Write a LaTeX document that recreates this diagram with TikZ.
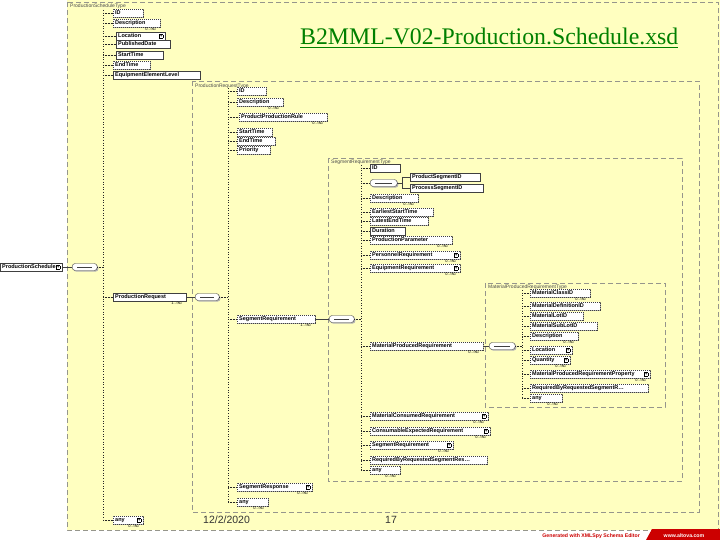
\documentclass[tikz,border=0pt]{standalone}
\usepackage{fontspec}
\setmainfont{Liberation Serif}
\newfontfamily\elfont{Liberation Sans}
\usetikzlibrary{shadows}
\definecolor{bgy}{RGB}{255,255,192}
\definecolor{boxg}{RGB}{150,150,140}
\definecolor{ttl}{RGB}{0,128,0}
\definecolor{gred}{RGB}{204,0,0}
\newcommand\plusbox{\nobreak\hfill{\fboxsep=0.3pt\fboxrule=0.4pt\fbox{\fontsize{4}{4}\selectfont +}}}
\tikzset{
 el/.style={draw=black!75, fill=white, anchor=west, font=\elfont\bfseries\fontsize{5.5}{6}\selectfont,
   inner xsep=2pt, inner ysep=1pt, text height=4.5pt, text depth=1.5pt, align=left,
   execute at begin node={\hyphenpenalty=10000 \exhyphenpenalty=10000 },
   drop shadow={shadow xshift=1.2pt, shadow yshift=-1.2pt, fill=black!30, opacity=1}},
 bw/.style={text width=#1pt-4pt},
 opt/.style={el, dash pattern=on 1.2pt off 0.8pt},
 card/.style={font=\elfont\fontsize{4}{4}\selectfont, anchor=north east, inner sep=0.5pt},
 seqline/.style={dotted, black!85, line width=0.6pt},
 conn/.style={densely dotted, black!85, line width=0.5pt},
 tbox/.style={draw=boxg, dash pattern=on 5pt off 3pt, line width=0.6pt},
 tlabel/.style={font=\elfont\fontsize{5}{5}\selectfont, anchor=north west, inner sep=0pt, text=black!70},
 comp/.style={draw=black!75, fill=white, rounded corners=3pt, minimum height=7pt, anchor=west, inner sep=0pt,
   drop shadow={shadow xshift=1.2pt, shadow yshift=-1.2pt, fill=black!30, opacity=1},
   path picture={\draw[black!75, line width=0.5pt] ([xshift=5pt]path picture bounding box.west) -- ([xshift=-5pt]path picture bounding box.east);}},
}
\begin{document}
\begin{tikzpicture}[x=1pt,y=-1pt]
\useasboundingbox (0,0) rectangle (720,540);
\fill[white] (0,0) rectangle (720,540);
\fill[bgy] (67,0) rectangle (720,530);

% type boxes
\draw[tbox] (67,2) rectangle (718,530);
\node[tlabel] (t-ps) at (70,4) {ProductionScheduleType};
\draw[tbox] (192,81) rectangle (699,512);
\node[tlabel] (t-pr) at (195,84) {ProductionRequestType};
\draw[tbox] (328,158) rectangle (682,481);
\node[tlabel] (t-sr) at (331,160) {SegmentRequirementType};
\draw[tbox] (485,283) rectangle (665,407);
\node[tlabel] (t-mpr) at (488,285) {MaterialProducedRequirementType};

% title
\node[anchor=base west, font=\fontsize{23.8}{28}\selectfont, text=ttl, inner sep=0pt] (title) at (300,45) {\underline{B2MML-V02-Production.Schedule.xsd}};

% sequence lines
\coordinate (s0t) at (103,10); \coordinate (s0b) at (103,520);
\coordinate (s1t) at (228,88); \coordinate (s1b) at (228,502);
\coordinate (s2t) at (361,165); \coordinate (s2b) at (361,470);
\coordinate (s3t) at (522,290); \coordinate (s3b) at (522,398);
\draw[seqline] (s0t) -- (s0b);
\draw[seqline] (s1t) -- (s1b);
\draw[seqline] (s2t) -- (s2b);
\draw[seqline] (s3t) -- (s3b);

% root
\node[el, bw=62] (root) at (0,267) {ProductionSchedule\plusbox};
\node[comp, minimum width=25pt] (root-c) at (72,267) {};
\draw[black!75] (root) -- (root-c);
\draw[conn] (root-c.east) -- (root-c.east -| s0t);

% ProductionScheduleType children
\node[opt, bw=30] (ps-id) at (113,13) {ID};
\node[opt, bw=47] (ps-desc) at (113,23) {Description};
\node[card] (c-ps-desc) at ([xshift=-3pt]ps-desc.south east) {0..$\infty$};
\node[el, bw=49] (ps-loc) at (116,36) {Location\plusbox};
\node[el, bw=54] (ps-pub) at (116,44) {PublishedDate};
\node[el, bw=47] (ps-start) at (116,55) {StartTime};
\node[opt, bw=37] (ps-end) at (113,65) {EndTime};
\node[el, bw=87] (ps-eel) at (113,75) {EquipmentElementLevel};
\node[el, bw=73] (ps-pr) at (113,297) {ProductionRequest};
\node[card] (c-ps-pr) at ([xshift=-3pt]ps-pr.south east) {1..$\infty$};
\node[opt, bw=30] (ps-any) at (113,520) {any\plusbox};
\node[card] (c-ps-any) at ([xshift=-3pt]ps-any.south east) {0..$\infty$};
\foreach \n in {ps-id,ps-desc,ps-loc,ps-pub,ps-start,ps-end,ps-eel,ps-pr,ps-any}
  \draw[conn] (\n.west -| s0t) -- (\n.west);

\node[comp, minimum width=24pt] (pr-c) at (195,297) {};
\draw[black!75] (ps-pr) -- (pr-c);
\draw[conn] (pr-c.east) -- (pr-c.east -| s1t);

% ProductionRequestType children
\node[opt, bw=29] (pr-id) at (237,91) {ID};
\node[opt, bw=46] (pr-desc) at (237,102) {Description};
\node[card] (c-pr-desc) at ([xshift=-3pt]pr-desc.south east) {0..$\infty$};
\node[opt, bw=88] (pr-ppr) at (239,117) {ProductProductionRule};
\node[card] (c-pr-ppr) at ([xshift=-3pt]pr-ppr.south east) {0..$\infty$};
\node[opt, bw=35] (pr-start) at (237,132) {StartTime};
\node[opt, bw=38] (pr-end) at (237,141) {EndTime};
\node[opt, bw=33] (pr-prio) at (237,150) {Priority};
\node[opt, bw=78] (pr-sr) at (237,319) {SegmentRequirement};
\node[card] (c-pr-sr) at ([xshift=-3pt]pr-sr.south east) {1..$\infty$};
\node[opt, bw=75] (pr-sresp) at (237,487) {SegmentResponse\plusbox};
\node[card] (c-pr-sresp) at ([xshift=-3pt]pr-sresp.south east) {0..$\infty$};
\node[opt, bw=31] (pr-any) at (237,502) {any};
\node[card] (c-pr-any) at ([xshift=-3pt]pr-any.south east) {0..$\infty$};
\foreach \n in {pr-id,pr-desc,pr-ppr,pr-start,pr-end,pr-prio,pr-sr,pr-sresp,pr-any}
  \draw[conn] (\n.west -| s1t) -- (\n.west);

\node[comp, minimum width=25pt] (sr-c) at (329,319) {};
\draw[black!75] (pr-sr) -- (sr-c);
\draw[conn] (sr-c.east) -- (sr-c.east -| s2t);

% SegmentRequirementType children
\node[el, bw=30] (sr-id) at (370,168) {ID};
\node[comp, minimum width=27pt] (sr-ch) at (370,183) {};
\coordinate (br) at (402,183);
\node[el, bw=70] (sr-psid) at (410,177) {ProductSegmentID};
\node[el, bw=73] (sr-procid) at (410,188) {ProcessSegmentID};
\draw[black!75] (sr-ch.east) -- (br);
\draw[black!75] (br |- sr-psid.west) -- (br |- sr-procid.west);
\draw[black!75] (br |- sr-psid.west) -- (sr-psid.west);
\draw[black!75] (br |- sr-procid.west) -- (sr-procid.west);
\node[opt, bw=48] (sr-desc) at (370,198) {Description};
\node[card] (c-sr-desc) at ([xshift=-3pt]sr-desc.south east) {0..$\infty$};
\node[opt, bw=63] (sr-est) at (370,212) {EarliestStartTime};
\node[opt, bw=58] (sr-let) at (370,221) {LatestEndTime};
\node[el, bw=35] (sr-dur) at (370,231) {Duration};
\node[opt, bw=82] (sr-pp) at (370,240) {ProductionParameter};
\node[card] (c-sr-pp) at ([xshift=-3pt]sr-pp.south east) {0..$\infty$};
\node[opt, bw=90] (sr-pers) at (370,255) {PersonnelRequirement\plusbox};
\node[card] (c-sr-pers) at ([xshift=-3pt]sr-pers.south east) {0..$\infty$};
\node[opt, bw=90] (sr-eq) at (370,268) {EquipmentRequirement\plusbox};
\node[card] (c-sr-eq) at ([xshift=-3pt]sr-eq.south east) {0..$\infty$};
\node[opt, bw=113] (sr-mpr) at (370,346) {MaterialProducedRequirement};
\node[card] (c-sr-mpr) at ([xshift=-3pt]sr-mpr.south east) {0..$\infty$};
\node[opt, bw=118] (sr-mcr) at (370,416) {MaterialConsumedRequirement\plusbox};
\node[card] (c-sr-mcr) at ([xshift=-3pt]sr-mcr.south east) {0..$\infty$};
\node[opt, bw=120] (sr-cer) at (370,431) {ConsumableExpectedRequirement\plusbox};
\node[card] (c-sr-cer) at ([xshift=-3pt]sr-cer.south east) {0..$\infty$};
\node[opt, bw=83] (sr-sr) at (370,445) {SegmentRequirement\plusbox};
\node[card] (c-sr-sr) at ([xshift=-3pt]sr-sr.south east) {0..$\infty$};
\node[opt, bw=117] (sr-rbr) at (370,460) {RequiredByRequestedSegmentRes…};
\node[opt, bw=30] (sr-any) at (370,470) {any};
\node[card] (c-sr-any) at ([xshift=-3pt]sr-any.south east) {0..$\infty$};
\foreach \n in {sr-id,sr-ch,sr-desc,sr-est,sr-let,sr-dur,sr-pp,sr-pers,sr-eq,sr-mpr,sr-mcr,sr-cer,sr-sr,sr-rbr,sr-any}
  \draw[conn] (\n.west -| s2t) -- (\n.west);

\node[comp, minimum width=26pt] (mpr-c) at (489,346) {};
\draw[black!75] (sr-mpr) -- (mpr-c);
\draw[conn] (mpr-c.east) -- (mpr-c.east -| s3t);

% MaterialProducedRequirementType children
\node[opt, bw=60] (m-mcid) at (530,293) {MaterialClassID};
\node[card] (c-m-mcid) at ([xshift=-3pt]m-mcid.south east) {0..$\infty$};
\node[opt, bw=70] (m-mdid) at (530,306) {MaterialDefinitionID};
\node[opt, bw=53] (m-lot) at (530,316) {MaterialLotID};
\node[opt, bw=67] (m-sublot) at (530,326) {MaterialSubLotID};
\node[opt, bw=48] (m-desc) at (530,336) {Description};
\node[card] (c-m-desc) at ([xshift=-3pt]m-desc.south east) {0..$\infty$};
\node[opt, bw=42] (m-loc) at (530,350) {Location\plusbox};
\node[opt, bw=40] (m-qty) at (530,360) {Quantity\plusbox};
\node[card] (c-m-qty) at ([xshift=-3pt]m-qty.south east) {0..$\infty$};
\node[opt, bw=120] (m-prop) at (530,374) {MaterialProducedRequirementProperty\plusbox};
\node[card] (c-m-prop) at ([xshift=-3pt]m-prop.south east) {0..$\infty$};
\node[opt, bw=118] (m-rbr) at (530,388) {RequiredByRequestedSegmentR…};
\node[opt, bw=32] (m-any) at (530,398) {any};
\node[card] (c-m-any) at ([xshift=-3pt]m-any.south east) {0..$\infty$};
\foreach \n in {m-mcid,m-mdid,m-lot,m-sublot,m-desc,m-loc,m-qty,m-prop,m-rbr,m-any}
  \draw[conn] (\n.west -| s3t) -- (\n.west);

% footer
\node[font=\elfont\fontsize{10.5}{12}\selectfont, anchor=base west, inner sep=0pt, text=black!80] (date) at (203,523) {12/2/2020};
\node[font=\elfont\fontsize{10.5}{12}\selectfont, anchor=base west, inner sep=0pt, text=black!80] (pgno) at (385,523) {17};
\node[font=\elfont\bfseries\fontsize{5.2}{6}\selectfont, anchor=base east, inner sep=0pt, text=gred] (gen) at (640,537) {Generated with XMLSpy Schema Editor};
\fill[gred] (652,529) -- (720,529) -- (720,540) -- (646,540) -- cycle;
\node[font=\elfont\bfseries\fontsize{5.2}{6}\selectfont, anchor=base, inner sep=0pt, text=white] (www) at (684,537) {www.altova.com};
\end{tikzpicture}
\end{document}
